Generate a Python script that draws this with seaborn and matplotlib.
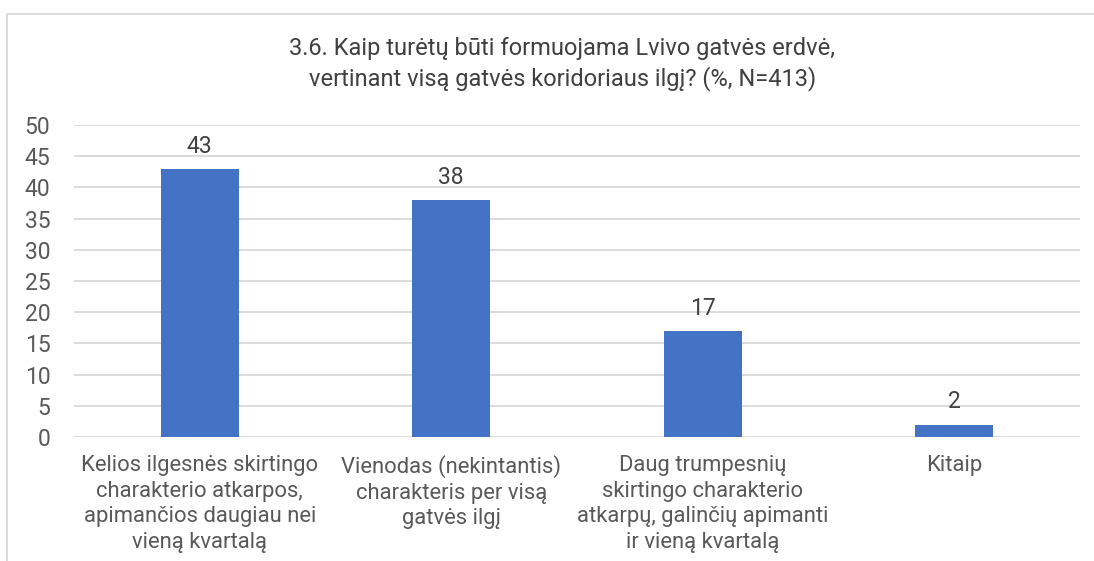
import matplotlib
matplotlib.use("Agg")
import matplotlib.pyplot as plt
from matplotlib.patches import Rectangle
import seaborn as sns
import pandas as pd

# data
categories = [
    "Kelios ilgesnės skirtingo\ncharakterio atkarpos,\napimančios daugiau nei\nvieną kvartalą",
    "Vienodas (nekintantis)\ncharakteris per visą\ngatvės ilgį",
    "Daug trumpesnių\nskirtingo charakterio\natkarpų, galinčių apimanti\nir vieną kvartalą",
    "Kitaip",
]
values = [43, 38, 17, 2]
y_ticks = [0, 5, 10, 15, 20, 25, 30, 35, 40, 45, 50]
title = "3.6. Kaip turėtų būti formuojama Lvivo gatvės erdvė,\nvertinant visą gatvės koridoriaus ilgį? (%, N=413)"

df = pd.DataFrame({"category": categories, "value": values})

sns.set_theme(style="white")
plt.rcParams["font.family"] = ["Roboto", "DejaVu Sans"]

fig = plt.figure(figsize=(10.94, 5.61), dpi=100)
ax = fig.add_axes([0.0676, 0.221, 0.9195, 0.556])

sns.barplot(data=df, x="category", y="value", color="#4472C4", width=0.31,
            saturation=1, linewidth=0, ax=ax)

ax.set_ylim(0, 50)
ax.set_yticks(y_ticks)
ax.yaxis.grid(True, color="#D9D9D9", linewidth=1.3)
ax.set_axisbelow(True)
for s in ax.spines.values():
    s.set_visible(False)
ax.set_xlabel("")
ax.set_ylabel("")
ax.tick_params(axis="y", labelsize=16.5, labelcolor="#595959", length=0, pad=17)
ax.tick_params(axis="x", labelsize=15.8, labelcolor="#595959", length=0, pad=13)
for lbl in ax.get_xticklabels():
    lbl.set_linespacing(1.28)

for p, v in zip(ax.patches, values):
    ax.annotate(str(v), (p.get_x() + p.get_width() / 2, v), xytext=(0, 8),
                textcoords="offset points", ha="center", va="bottom",
                fontsize=16.5, color="#404040")

fig.text(0.514, 0.886, title, ha="center", va="center", fontsize=17,
         color="#404040", linespacing=1.35)

# chart frame
fig.patches.append(Rectangle((0.0064, -0.5), 1.5, 1.475, transform=fig.transFigure,
                             fill=False, edgecolor="#D9D9D9", linewidth=1.3))

fig.savefig("out.png", dpi=100)
